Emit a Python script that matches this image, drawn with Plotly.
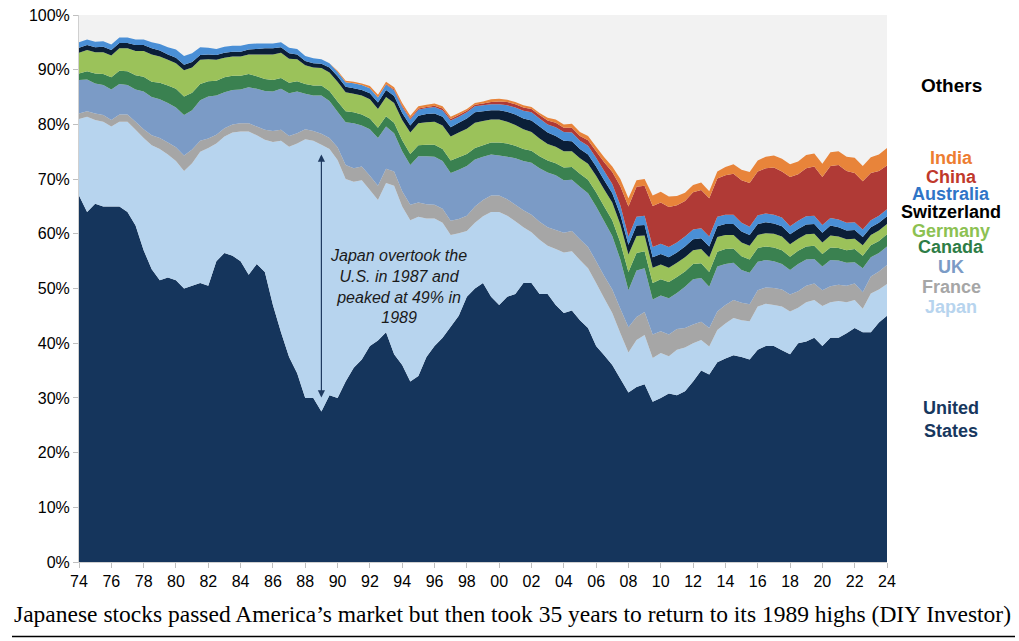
import plotly.graph_objects as go

# Semi-annual observation dates, 1974.0 ... 2024.0
years = [1974 + 0.5 * i for i in range(101)]

# Shares of world stock market capitalisation (%)
us = [
    67.0, 64.0,  65.5, 65.0,  65.0, 65.0,  64.0, 61.5,  57.0, 53.5,   # 74-78
    51.5, 52.0,  51.5, 50.0,  50.5, 51.0,  50.5, 55.0,  56.5, 56.0,   # 79-83
    55.0, 52.5,  54.5, 53.0,  47.0, 42.0,  37.5, 34.5,  30.0, 30.0,   # 84-88
    27.5, 30.5,  30.0, 33.0,  35.5, 37.0,  39.5, 40.5,  42.0, 38.0,   # 89-93
    36.0, 33.0,  34.0, 37.5,  39.5, 41.0,  43.0, 45.0,  48.5, 50.0,   # 94-98
    51.0, 48.5,  47.0, 48.5,  49.0, 51.0,  51.0, 49.0,  49.0, 47.0,   # 99-03
    45.5, 46.0,  44.2, 42.8,  39.5, 37.8,  36.0, 33.5,  31.0, 32.0,   # 04-08
    32.5, 29.3,  30.0, 30.8,  30.5, 31.2,  33.0, 35.0,  34.3, 36.5,   # 09-13
    37.2, 37.8,  37.5, 37.0,  38.8, 39.5,  39.5, 38.7,  38.0, 40.0,   # 14-18
    40.3, 41.0,  39.5, 41.0,  41.0, 41.8,  42.8, 42.0,  42.0, 43.8,   # 19-23
    45.0,                                                             # 24
]
japan = [
    14.0, 17.4,  15.3, 15.5,  14.6, 15.5,  16.5, 17.5,  20.5, 22.7,
    24.0, 22.5,  21.8, 21.5,  22.4, 24.0,  25.2, 21.5,  21.3, 22.5,
    23.7, 26.2,  23.5, 24.2,  29.8, 35.0,  38.4, 42.0,  47.3, 47.0,
    48.8, 45.0,  43.5, 37.0,  34.0, 32.8,  28.5, 25.7,  27.3, 30.8,
    29.0, 29.5,  29.1, 25.3,  23.3, 21.0,  16.8, 15.1,  12.0, 12.0,
    12.2, 15.5,  17.0, 14.8,  13.3, 10.2,   9.3,  9.9,   8.8, 10.2,
    11.1, 10.8,  11.0, 10.9,  11.5, 10.4,   9.5,  8.3,   7.3,  8.6,
     9.0,  8.0,   8.2,  6.8,   8.3,  8.0,   7.0,  5.6,   5.1,  5.9,
     6.4,  6.8,   6.7,  7.0,   7.9,  7.7,   7.5,  8.0,   7.8,  6.5,
     7.2,  6.9,   7.3,  6.5,   6.7,  5.7,   5.1,  4.3,   7.1,  6.0,
     5.8,
]
france = [
    1.0, 1.0,  1.2, 1.2,  1.2, 1.3,  1.3, 1.5,  1.6, 1.8,
    2.0, 2.2,  2.5, 2.8,  2.5, 2.0,  1.7, 1.6,  1.5, 1.5,
    1.5, 1.5,  1.6, 1.8,  2.0, 2.0,  2.0, 1.9,  1.8, 1.8,
    2.0, 2.0,  2.3, 2.6,  2.5, 2.5,  2.6, 2.6,  2.6, 2.6,
    2.8, 2.8,  2.6, 2.6,  2.5, 2.6,  2.6, 2.6,  2.8, 3.0,
    3.0, 3.0,  3.0, 3.0,  3.0, 3.1,  3.2, 3.3,  3.4, 3.5,
    3.6, 3.7,  3.8, 3.9,  4.0, 4.1,  4.3, 4.5,  4.6, 4.2,
    4.2, 4.3,  4.0, 4.0,  3.8, 3.6,  3.4, 3.3,  3.4, 3.4,
    3.4, 3.3,  3.2, 3.1,  3.0, 3.0,  3.1, 3.1,  3.1, 3.0,
    3.0, 3.0,  2.9, 2.9,  3.0, 3.0,  3.0, 3.0,  3.1, 3.3,
    3.5,
]
uk = [
    6.1, 5.8,  5.5, 5.5,  5.6, 5.6,  5.4, 5.9,  6.9, 7.0,
    7.1, 7.2,  7.3, 7.4,  7.2, 7.4,  7.7, 7.2,  6.6, 6.3,
    6.2, 6.6,  6.9, 7.1,  7.2, 7.5,  7.8, 7.6,  6.5, 6.5,
    7.0, 6.8,  6.5, 7.8,  8.2, 7.5,  8.5, 8.7,  7.7, 7.0,
    7.3, 7.3,  8.5, 8.8,  8.8, 8.7,  8.7, 9.0,  9.1, 8.6,
    7.9, 7.5,  7.3, 7.8,  8.5, 9.0,  9.5, 9.8, 10.0, 10.0,
    9.6, 9.4,  9.6, 9.8, 10.0, 10.0,  9.8, 9.0,  6.8, 8.5,
    8.0, 6.4,  6.5, 6.6,  6.6, 7.5,  8.3, 8.0,  7.5, 8.2,
    7.5, 6.8,  6.0, 5.8,  5.2, 5.0,  4.9, 4.7,  4.5, 5.0,
    4.8, 4.5,  4.3, 4.8,  4.4, 4.2,  3.9, 4.4,  3.5, 3.4,
    3.4,
]
canada = [
    1.2, 1.5,  1.8, 2.0,  2.2, 2.4,  2.5, 2.6,  2.7, 2.8,
    3.0, 3.2,  3.4, 3.4,  3.2, 3.0,  2.8, 2.7,  2.7, 2.6,
    2.5, 2.4,  2.3, 2.2,  2.1, 2.0,  1.9, 1.9,  1.8, 1.8,
    1.8, 1.8,  1.9, 2.0,  2.0, 2.0,  2.0, 1.9,  1.9, 1.9,
    2.0, 2.0,  2.0, 2.1,  2.2, 2.2,  2.3, 2.3,  2.2, 2.1,
    2.1, 2.2,  2.4, 2.4,  2.3, 2.2,  2.2, 2.2,  2.2, 2.2,
    2.3, 2.3,  2.4, 2.5,  2.6, 2.7,  2.9, 3.1,  3.3, 3.2,
    3.1, 3.0,  3.0, 3.0,  2.9, 2.8,  2.8, 2.7,  2.7, 2.7,
    2.7, 2.6,  2.5, 2.4,  2.5, 2.5,  2.5, 2.5,  2.4, 2.4,
    2.4, 2.4,  2.3, 2.3,  2.3, 2.3,  2.4, 2.3,  2.2, 2.2,
    2.2,
]
germany = [
    3.8, 3.9,  3.9, 4.0,  4.0, 4.1,  4.2, 4.4,  4.7, 5.0,
    4.8, 4.7,  4.7, 4.8,  4.6, 4.4,  4.0, 3.8,  3.6, 3.5,
    3.5, 3.6,  4.0, 4.5,  4.7, 4.6,  4.4, 4.0,  3.4, 3.3,
    3.2, 3.4,  3.6, 3.5,  3.4, 3.5,  3.5, 3.4,  3.5, 3.6,
    3.7, 3.9,  4.0, 4.1,  4.2, 4.3,  4.4, 4.5,  4.6, 4.6,
    4.4, 4.2,  4.2, 4.0,  3.8, 3.6,  3.4, 3.2,  3.0, 3.0,
    3.0, 2.9,  2.8, 2.9,  3.0, 3.1,  3.2, 3.3,  3.2, 3.1,
    2.9, 2.8,  2.7, 2.6,  2.6, 2.6,  2.5, 2.6,  2.7, 2.7,
    2.6, 2.5,  2.5, 2.5,  2.4, 2.4,  2.5, 2.5,  2.3, 2.2,
    2.2, 2.2,  2.1, 2.2,  2.1, 2.0,  1.9, 1.9,  1.9, 1.9,
    1.9,
]
switzerland = [
    0.9, 0.9,  0.9, 1.0,  1.0, 1.0,  1.0, 1.1,  1.1, 1.1,
    1.1, 1.0,  1.0, 1.0,  1.0, 0.9,  0.9, 0.9,  0.9, 0.9,
    0.9, 0.9,  1.0, 1.1,  1.1, 1.0,  1.0, 0.9,  0.8, 0.8,
    0.8, 0.9,  1.0, 1.0,  1.0, 1.0,  1.1, 1.2,  1.3, 1.3,
    1.3, 1.3,  1.4, 1.5,  1.5, 1.6,  1.7, 1.8,  1.9, 1.9,
    1.8, 1.7,  1.7, 1.8,  1.9, 2.0,  2.1, 2.2,  2.1, 2.0,
    1.9, 1.8,  1.7, 1.7,  1.7, 1.7,  1.7, 1.8,  1.8, 1.9,
    1.9, 1.9,  1.9, 1.9,  1.9, 2.0,  2.0, 2.0,  2.0, 2.0,
    2.0, 2.0,  2.0, 2.0,  2.0, 2.0,  1.9, 1.9,  1.8, 1.8,
    1.8, 1.8,  1.8, 1.8,  1.7, 1.6,  1.6, 1.5,  1.4, 1.4,
    1.4,
]
australia = [
    1.0, 1.0,  1.0, 1.0,  1.0, 1.0,  1.0, 1.0,  1.0, 1.1,
    1.2, 1.3,  1.5, 1.6,  1.6, 1.4,  1.2, 1.1,  1.1, 1.1,
    1.1, 1.0,  1.0, 0.9,  0.9, 0.9,  1.0, 1.0,  0.9, 0.9,
    0.8, 0.8,  0.8, 0.8,  0.9, 0.9,  0.9, 0.9,  1.0, 1.0,
    1.1, 1.1,  1.1, 1.1,  1.2, 1.2,  1.2, 1.1,  1.1, 1.1,
    1.1, 1.1,  1.1, 1.2,  1.3, 1.4,  1.5, 1.5,  1.5, 1.6,
    1.6, 1.6,  1.5, 1.6,  1.6, 1.7,  1.7, 1.7,  1.5, 1.6,
    1.7, 1.9,  1.9, 1.9,  1.8, 1.8,  1.8, 1.8,  1.8, 1.7,
    1.7, 1.7,  1.6, 1.5,  1.6, 1.6,  1.6, 1.6,  1.5, 1.5,
    1.5, 1.5,  1.4, 1.4,  1.4, 1.4,  1.4, 1.4,  1.3, 1.3,
    1.3,
]
china = [
    0.0, 0.0,  0.0, 0.0,  0.0, 0.0,  0.0, 0.0,  0.0, 0.0,   # 74-78
    0.0, 0.0,  0.0, 0.0,  0.0, 0.0,  0.0, 0.0,  0.0, 0.0,   # 79-83
    0.0, 0.0,  0.0, 0.0,  0.0, 0.0,  0.0, 0.0,  0.0, 0.0,   # 84-88
    0.0, 0.0,  0.0, 0.0,  0.0, 0.0,  0.0, 0.0,  0.1, 0.2,   # 89-93
    0.2, 0.2,  0.2, 0.2,  0.2, 0.3,  0.3, 0.3,  0.3, 0.3,   # 94-98
    0.3, 0.4,  0.5, 0.6,  0.6, 0.6,  0.6, 0.6,  0.7, 0.8,   # 99-03
    0.8, 0.9,  0.9, 1.0,  1.2, 1.6,  2.2, 3.5,  5.5, 5.5,   # 04-08
    5.5, 7.5,  7.5, 7.3,  6.8, 6.5,  6.8, 7.0,  7.0, 7.0,   # 09-13
    7.2, 7.5,  7.8, 8.0,  8.0, 8.3,  8.6, 8.4,  9.0, 8.5,   # 14-18
    8.8, 9.0,  8.8, 9.5, 10.0, 9.5,  9.0, 8.8,  8.6, 8.2,   # 19-23
    8.0,
]
india = [
    0.0, 0.0,  0.0, 0.0,  0.0, 0.0,  0.0, 0.0,  0.0, 0.0,   # 74-78
    0.0, 0.0,  0.0, 0.0,  0.0, 0.0,  0.0, 0.0,  0.0, 0.0,   # 79-83
    0.0, 0.0,  0.0, 0.0,  0.0, 0.0,  0.0, 0.0,  0.0, 0.0,   # 84-88
    0.0, 0.0,  0.2, 0.3,  0.3, 0.3,  0.4, 0.5,  0.4, 0.4,   # 89-93
    0.5, 0.5,  0.4, 0.4,  0.4, 0.4,  0.4, 0.4,  0.3, 0.3,   # 94-98
    0.4, 0.5,  0.5, 0.4,  0.4, 0.4,  0.4, 0.4,  0.5, 0.6,   # 99-03
    0.6, 0.7,  0.7, 0.8,  0.8, 0.9,  1.0, 1.3,  1.5, 1.2,   # 04-08
    1.2, 1.9,  2.0, 1.9,  1.7, 1.5,  1.3, 1.4,  1.3, 1.3,   # 09-13
    1.5, 1.7,  1.9, 2.0,  2.0, 2.1,  2.2, 2.3,  2.3, 2.3,   # 14-18
    2.4, 2.4,  2.4, 2.5,  2.5, 2.6,  2.8, 2.8,  2.9, 3.0,   # 19-23
    3.2,
]

names = ["United States", "Japan", "France", "UK", "Canada", "Germany",
         "Switzerland", "Australia", "China", "India"]
fill_colors = ["#15355C", "#B7D4EE", "#A6A6A6", "#7B9BC6", "#3A8150", "#9BC25A",
               "#0B1F38", "#4A8FD6", "#B03A36", "#E8843A"]
label_colors = ["#17375E", "#B7D4EE", "#A6A6A6", "#7B9BC6", "#2E7D46", "#8CC152",
                "#000000", "#2F75C7", "#C0392B", "#ED7D31"]
label_y = [26.0, 46.6, 50.3, 53.9, 57.6, 60.6, 63.9, 67.2, 70.4, 73.8]
series = [us, japan, france, uk, canada, germany, switzerland, australia, china, india]

x_tick_vals = list(range(1974, 2025, 2))
x_tick_labels = ["74", "76", "78", "80", "82", "84", "86", "88", "90", "92", "94", "96", "98",
                 "00", "02", "04", "06", "08", "10", "12", "14", "16", "18", "20", "22", "24"]
y_tick_vals = [0, 10, 20, 30, 40, 50, 60, 70, 80, 90, 100]
y_tick_labels = ["0%", "10%", "20%", "30%", "40%", "50%", "60%", "70%", "80%", "90%", "100%"]

fig = go.Figure()
for name, vals, col in zip(names, series, fill_colors):
    assert len(vals) == len(years), name
    fig.add_trace(go.Scatter(x=years, y=vals, name=name, stackgroup="one", mode="none",
                             fillcolor=col, line=dict(width=0), hoverinfo="skip"))

W, H = 1019, 641
L, R, T, B = 79, 132, 15, 79
pw, ph = W - L - R, H - T - B

def px_x(px):
    return (px - L) / pw

def px_y(py):
    return (H - B - py) / ph

annotations = []
# country labels on the right
for name, col, yv in zip(names, label_colors, label_y):
    txt = "United<br>States" if name == "United States" else name
    annotations.append(dict(x=px_x(951), xref="paper", y=yv, yref="y", text="<b>%s</b>" % txt,
                            showarrow=False, xanchor="center", yanchor="middle",
                            font=dict(size=18, color=col, family="Liberation Sans, Arial")))
annotations.append(dict(x=px_x(951), xref="paper", y=87.2, yref="y", text="<b>Others</b>",
                        showarrow=False, xanchor="center", yanchor="middle",
                        font=dict(size=19, color="#000000", family="Liberation Sans, Arial")))
# double-headed arrow at 1989
annotations.append(dict(x=1989.0, y=74.5, xref="x", yref="y", ax=1989.0, ay=29.8,
                        axref="x", ayref="y", text="", showarrow=True, arrowside="end+start",
                        arrowhead=2, arrowsize=1.2, arrowwidth=1.2, arrowcolor="#1F3A60"))
annotations.append(dict(x=1993.75, y=50.3, xref="x", yref="y",
                        text="<i>Japan overtook the<br>U.S. in 1987 and<br>peaked at 49% in<br>1989</i>",
                        showarrow=False, xanchor="center", yanchor="middle", align="center",
                        font=dict(size=16, color="#1A1A1A", family="Liberation Sans, Arial")))
# caption
annotations.append(dict(x=px_x(512), y=px_y(614), xref="paper", yref="paper",
                        text="Japanese stocks passed America\u2019s market but then took 35 years to return to its 1989 highs (DIY Investor)",
                        showarrow=False, xanchor="center", yanchor="middle",
                        font=dict(size=23.5, color="#000000", family="Liberation Serif, Times New Roman")))

fig.update_layout(
    width=W, height=H,
    margin=dict(l=L, r=R, t=T, b=B, pad=0, autoexpand=False),
    paper_bgcolor="#FFFFFF", plot_bgcolor="#F2F2F2",
    showlegend=False,
    font=dict(family="Liberation Sans, Arial", size=16, color="#000000"),
    xaxis=dict(range=[1974, 2024], tickvals=x_tick_vals, ticktext=x_tick_labels,
               ticks="outside", ticklen=5, tickcolor="#BFBFBF", showline=True,
               linecolor="#D0D0D0", linewidth=1, showgrid=False, zeroline=False,
               automargin=False, tickfont=dict(size=16, color="#000000")),
    yaxis=dict(range=[0, 100], tickvals=y_tick_vals, ticktext=y_tick_labels,
               ticks="outside", ticklen=5, tickcolor="#BFBFBF", showline=True,
               linecolor="#D0D0D0", linewidth=1, showgrid=False, zeroline=False,
               automargin=False, tickfont=dict(size=16, color="#000000")),
    annotations=annotations,
    shapes=[dict(type="line", xref="paper", yref="paper", x0=px_x(12), x1=px_x(1015),
                 y0=px_y(636.5), y1=px_y(636.5), line=dict(color="#000000", width=1.5))],
)

fig.write_html("out.html")
